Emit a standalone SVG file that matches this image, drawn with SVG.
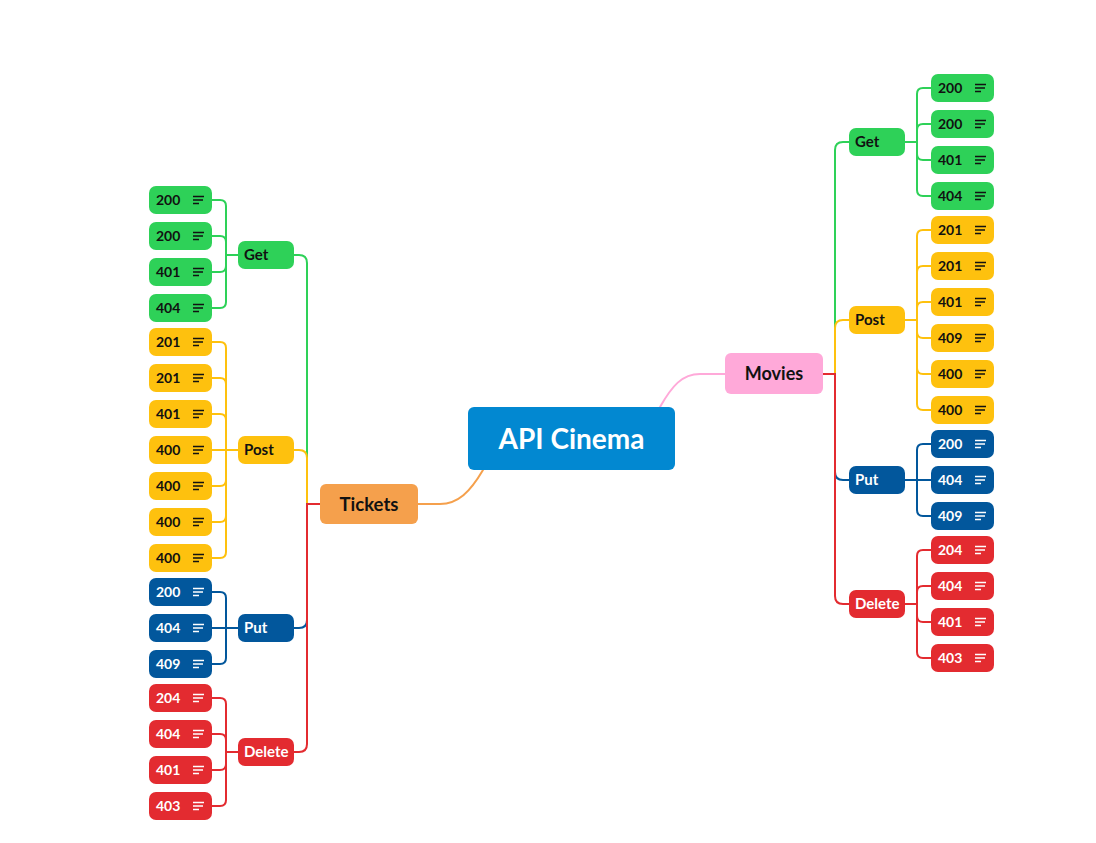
<svg xmlns="http://www.w3.org/2000/svg" width="1096" height="843" viewBox="0 0 1096 843">
<style>
.c{fill:none;stroke-width:2;stroke-linecap:round;stroke-linejoin:round}
.sg{stroke:#2ED158}.sy{stroke:#FEC10E}.sb{stroke:#02579C}.sr{stroke:#E32B30}.so{stroke:#F5A04C}.sp{stroke:#FFA9D9}
.g{fill:#2ED158}.y{fill:#FEC10E}.b{fill:#02579C}.r{fill:#E32B30}
.t{font-family:Lato,"Open Sans","Liberation Sans",sans-serif;font-weight:700;font-size:14px}
.m{font-size:15px}
.dk{fill:#111}.wt{fill:#fff}
.id{stroke:#111;stroke-width:1.7;fill:none}.iw{stroke:#fff;stroke-width:1.7;fill:none}
</style>
<defs>
<g id="icd"><path class="id" d="M0,-3.5H11M0,0H10M0,3.5H6"/></g>
<g id="icw"><path class="iw" d="M0,-3.5H11M0,0H10M0,3.5H6"/></g>
</defs>
<rect width="1096" height="843" fill="#fff"/>
<g id="connectors">
<path class="c so" d="M418,504H440C458,504 470,492 483,470"/>
<path class="c sp" d="M660,407C672,386 682,374 700,374H725"/>
<path class="c sg" d="M320,504H307V263Q307,255 299,255H294"/>
<path class="c sy" d="M320,504H307V458Q307,450 299,450H294"/>
<path class="c sb" d="M320,504H307V620Q307,628 299,628H294"/>
<path class="c sr" d="M320,504H307V744Q307,752 299,752H294"/>
<path class="c sg" d="M823,374H835V150Q835,142 843,142H849"/>
<path class="c sy" d="M823,374H835V328Q835,320 843,320H849"/>
<path class="c sb" d="M823,374H835V472Q835,480 843,480H849"/>
<path class="c sr" d="M823,374H835V596Q835,604 843,604H849"/>
<path class="c sg" d="M238,255H226V206Q226,200 220,200H212M238,255H226V242Q226,236 220,236H212M238,255H226V266Q226,272 220,272H212M238,255H226V302Q226,308 220,308H212"/>
<path class="c sy" d="M238,450H226V348Q226,342 220,342H212M238,450H226V384Q226,378 220,378H212M238,450H226V420Q226,414 220,414H212M238,450H212M238,450H226V480Q226,486 220,486H212M238,450H226V516Q226,522 220,522H212M238,450H226V552Q226,558 220,558H212"/>
<path class="c sb" d="M238,628H226V598Q226,592 220,592H212M238,628H212M238,628H226V658Q226,664 220,664H212"/>
<path class="c sr" d="M238,752H226V704Q226,698 220,698H212M238,752H226V740Q226,734 220,734H212M238,752H226V764Q226,770 220,770H212M238,752H226V800Q226,806 220,806H212"/>
<path class="c sg" d="M905,142H917V94Q917,88 923,88H931M905,142H917V130Q917,124 923,124H931M905,142H917V154Q917,160 923,160H931M905,142H917V190Q917,196 923,196H931"/>
<path class="c sy" d="M905,320H917V236Q917,230 923,230H931M905,320H917V272Q917,266 923,266H931M905,320H917V308Q917,302 923,302H931M905,320H917V332Q917,338 923,338H931M905,320H917V368Q917,374 923,374H931M905,320H917V404Q917,410 923,410H931"/>
<path class="c sb" d="M905,480H917V450Q917,444 923,444H931M905,480H931M905,480H917V510Q917,516 923,516H931"/>
<path class="c sr" d="M905,604H917V556Q917,550 923,550H931M905,604H917V592Q917,586 923,586H931M905,604H917V616Q917,622 923,622H931M905,604H917V652Q917,658 923,658H931"/>
</g>
<g id="api-cinema"><rect x="468" y="407" width="207" height="63" rx="6" fill="#0288D1"/><text x="571.5" y="448.5" text-anchor="middle" class="t wt" style="font-size:28px">API Cinema</text></g>
<g id="tickets"><rect x="320" y="484" width="98" height="40" rx="6" fill="#F5A04C"/><text x="369" y="510.5" text-anchor="middle" class="t dk" style="font-size:18.5px">Tickets</text></g>
<g id="movies"><rect x="725" y="353" width="98" height="41" rx="6" fill="#FFA9D9"/><text x="774" y="380" text-anchor="middle" class="t dk" style="font-size:18px">Movies</text></g>
<g id="t-get"><rect class="g" x="238" y="241" width="56" height="28" rx="7"/><text class="t m dk" x="244" y="260">Get</text></g>
<g id="t-post"><rect class="y" x="238" y="436" width="56" height="28" rx="7"/><text class="t m dk" x="244" y="455">Post</text></g>
<g id="t-put"><rect class="b" x="238" y="614" width="56" height="28" rx="7"/><text class="t m wt" x="244" y="633">Put</text></g>
<g id="t-delete"><rect class="r" x="238" y="738" width="56" height="28" rx="7"/><text class="t m wt" x="244" y="757">Delete</text></g>
<g id="m-get"><rect class="g" x="849" y="128" width="56" height="28" rx="7"/><text class="t m dk" x="855" y="147">Get</text></g>
<g id="m-post"><rect class="y" x="849" y="306" width="56" height="28" rx="7"/><text class="t m dk" x="855" y="325">Post</text></g>
<g id="m-put"><rect class="b" x="849" y="466" width="56" height="28" rx="7"/><text class="t m wt" x="855" y="485">Put</text></g>
<g id="m-delete"><rect class="r" x="849" y="590" width="56" height="28" rx="7"/><text class="t m wt" x="855" y="609">Delete</text></g>
<g id="tg1"><rect class="g" x="149" y="186" width="63" height="28" rx="7"/><text class="t dk" x="156" y="205">200</text><use href="#icd" x="193" y="200"/></g>
<g id="tg2"><rect class="g" x="149" y="222" width="63" height="28" rx="7"/><text class="t dk" x="156" y="241">200</text><use href="#icd" x="193" y="236"/></g>
<g id="tg3"><rect class="g" x="149" y="258" width="63" height="28" rx="7"/><text class="t dk" x="156" y="277">401</text><use href="#icd" x="193" y="272"/></g>
<g id="tg4"><rect class="g" x="149" y="294" width="63" height="28" rx="7"/><text class="t dk" x="156" y="313">404</text><use href="#icd" x="193" y="308"/></g>
<g id="tp1"><rect class="y" x="149" y="328" width="63" height="28" rx="7"/><text class="t dk" x="156" y="347">201</text><use href="#icd" x="193" y="342"/></g>
<g id="tp2"><rect class="y" x="149" y="364" width="63" height="28" rx="7"/><text class="t dk" x="156" y="383">201</text><use href="#icd" x="193" y="378"/></g>
<g id="tp3"><rect class="y" x="149" y="400" width="63" height="28" rx="7"/><text class="t dk" x="156" y="419">401</text><use href="#icd" x="193" y="414"/></g>
<g id="tp4"><rect class="y" x="149" y="436" width="63" height="28" rx="7"/><text class="t dk" x="156" y="455">400</text><use href="#icd" x="193" y="450"/></g>
<g id="tp5"><rect class="y" x="149" y="472" width="63" height="28" rx="7"/><text class="t dk" x="156" y="491">400</text><use href="#icd" x="193" y="486"/></g>
<g id="tp6"><rect class="y" x="149" y="508" width="63" height="28" rx="7"/><text class="t dk" x="156" y="527">400</text><use href="#icd" x="193" y="522"/></g>
<g id="tp7"><rect class="y" x="149" y="544" width="63" height="28" rx="7"/><text class="t dk" x="156" y="563">400</text><use href="#icd" x="193" y="558"/></g>
<g id="tu1"><rect class="b" x="149" y="578" width="63" height="28" rx="7"/><text class="t wt" x="156" y="597">200</text><use href="#icw" x="193" y="592"/></g>
<g id="tu2"><rect class="b" x="149" y="614" width="63" height="28" rx="7"/><text class="t wt" x="156" y="633">404</text><use href="#icw" x="193" y="628"/></g>
<g id="tu3"><rect class="b" x="149" y="650" width="63" height="28" rx="7"/><text class="t wt" x="156" y="669">409</text><use href="#icw" x="193" y="664"/></g>
<g id="td1"><rect class="r" x="149" y="684" width="63" height="28" rx="7"/><text class="t wt" x="156" y="703">204</text><use href="#icw" x="193" y="698"/></g>
<g id="td2"><rect class="r" x="149" y="720" width="63" height="28" rx="7"/><text class="t wt" x="156" y="739">404</text><use href="#icw" x="193" y="734"/></g>
<g id="td3"><rect class="r" x="149" y="756" width="63" height="28" rx="7"/><text class="t wt" x="156" y="775">401</text><use href="#icw" x="193" y="770"/></g>
<g id="td4"><rect class="r" x="149" y="792" width="63" height="28" rx="7"/><text class="t wt" x="156" y="811">403</text><use href="#icw" x="193" y="806"/></g>
<g id="mg1"><rect class="g" x="931" y="74" width="63" height="28" rx="7"/><text class="t dk" x="938" y="93">200</text><use href="#icd" x="975" y="88"/></g>
<g id="mg2"><rect class="g" x="931" y="110" width="63" height="28" rx="7"/><text class="t dk" x="938" y="129">200</text><use href="#icd" x="975" y="124"/></g>
<g id="mg3"><rect class="g" x="931" y="146" width="63" height="28" rx="7"/><text class="t dk" x="938" y="165">401</text><use href="#icd" x="975" y="160"/></g>
<g id="mg4"><rect class="g" x="931" y="182" width="63" height="28" rx="7"/><text class="t dk" x="938" y="201">404</text><use href="#icd" x="975" y="196"/></g>
<g id="mp1"><rect class="y" x="931" y="216" width="63" height="28" rx="7"/><text class="t dk" x="938" y="235">201</text><use href="#icd" x="975" y="230"/></g>
<g id="mp2"><rect class="y" x="931" y="252" width="63" height="28" rx="7"/><text class="t dk" x="938" y="271">201</text><use href="#icd" x="975" y="266"/></g>
<g id="mp3"><rect class="y" x="931" y="288" width="63" height="28" rx="7"/><text class="t dk" x="938" y="307">401</text><use href="#icd" x="975" y="302"/></g>
<g id="mp4"><rect class="y" x="931" y="324" width="63" height="28" rx="7"/><text class="t dk" x="938" y="343">409</text><use href="#icd" x="975" y="338"/></g>
<g id="mp5"><rect class="y" x="931" y="360" width="63" height="28" rx="7"/><text class="t dk" x="938" y="379">400</text><use href="#icd" x="975" y="374"/></g>
<g id="mp6"><rect class="y" x="931" y="396" width="63" height="28" rx="7"/><text class="t dk" x="938" y="415">400</text><use href="#icd" x="975" y="410"/></g>
<g id="mu1"><rect class="b" x="931" y="430" width="63" height="28" rx="7"/><text class="t wt" x="938" y="449">200</text><use href="#icw" x="975" y="444"/></g>
<g id="mu2"><rect class="b" x="931" y="466" width="63" height="28" rx="7"/><text class="t wt" x="938" y="485">404</text><use href="#icw" x="975" y="480"/></g>
<g id="mu3"><rect class="b" x="931" y="502" width="63" height="28" rx="7"/><text class="t wt" x="938" y="521">409</text><use href="#icw" x="975" y="516"/></g>
<g id="md1"><rect class="r" x="931" y="536" width="63" height="28" rx="7"/><text class="t wt" x="938" y="555">204</text><use href="#icw" x="975" y="550"/></g>
<g id="md2"><rect class="r" x="931" y="572" width="63" height="28" rx="7"/><text class="t wt" x="938" y="591">404</text><use href="#icw" x="975" y="586"/></g>
<g id="md3"><rect class="r" x="931" y="608" width="63" height="28" rx="7"/><text class="t wt" x="938" y="627">401</text><use href="#icw" x="975" y="622"/></g>
<g id="md4"><rect class="r" x="931" y="644" width="63" height="28" rx="7"/><text class="t wt" x="938" y="663">403</text><use href="#icw" x="975" y="658"/></g>
</svg>
